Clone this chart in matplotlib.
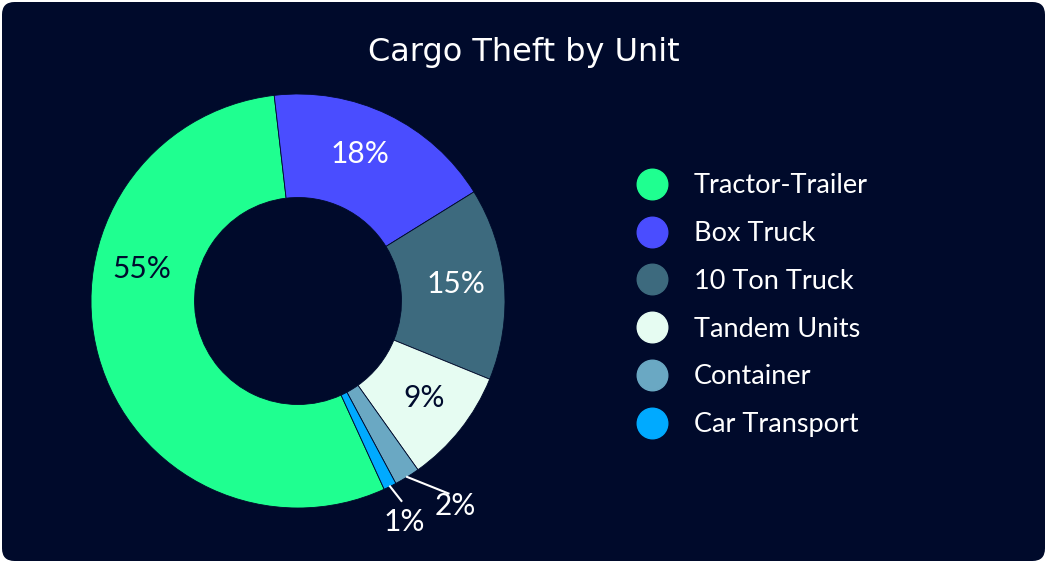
import matplotlib.pyplot as plt
import numpy as np
from matplotlib.patches import FancyBboxPatch
from matplotlib.lines import Line2D

# Данные
units = ['Tractor-Trailer', 'Box Truck', '10 Ton Truck', 'Tandem Units', 'Container', 'Car Transport']
shares = [55, 18, 15, 9, 2, 1]
colors = ['#1fff90', '#4a4dff', '#3d6a7e', '#e6fcf2', '#6aa8c3', '#00aaff']
label_colors = ['#000b2e', 'white', 'white', '#000b2e', 'white', 'white']
label_shift = [-27, 3, 1.5, 1, 0, 0]   # сдвиг подписи по углу, градусы

bg = '#000a2b'
W, H = 1049, 565

fig = plt.figure(figsize=(W / 100, H / 100), dpi=100)
fig.patch.set_facecolor('white')

# Карточка со скруглёнными углами
card = FancyBboxPatch((2 / W, 4 / H), 1043 / W, 559 / H,
                      boxstyle='round,pad=0,rounding_size=0.012',
                      transform=fig.transFigure, facecolor=bg, edgecolor='none',
                      mutation_aspect=W / H, zorder=-5)
fig.patches.append(card)

fig.text(524 / W, 1 - 52 / H, 'Cargo Theft by Unit', color='white',
         fontsize=23, family='DejaVu Sans', ha='center', va='center')

# Кольцевая диаграмма
ax = fig.add_axes([91 / W, (H - 508) / H, 414 / W, 414 / H])
ax.set_facecolor('none')
start = 90 - 155.4
wedges, _ = ax.pie(shares, colors=colors, startangle=start, counterclock=False,
                   radius=1.0, wedgeprops=dict(width=0.5, edgecolor=bg, linewidth=0.6))
ax.set_xlim(-1, 1)
ax.set_ylim(-1, 1)
ax.set_aspect('equal')
ax.axis('off')

for i, w in enumerate(wedges):
    mid = np.deg2rad((w.theta1 + w.theta2) / 2 + label_shift[i])
    txt = f'{shares[i]}%'
    if shares[i] >= 5:
        r = 0.77
        ax.text(r * np.cos(mid), r * np.sin(mid), txt, color=label_colors[i],
                fontsize=21.5, family='Lato', ha='center', va='center')
    else:
        x0, y0 = np.cos(mid), np.sin(mid)
        if shares[i] == 2:
            dx, dy, tx, ty = 0.2, -0.08, 0.035, -0.06
        else:
            dx, dy, tx, ty = 0.055, -0.07, 0.015, -0.1
        ax.plot([x0, x0 + dx], [y0, y0 + dy], color='white', lw=1.5, clip_on=False)
        ax.text(x0 + dx + tx, y0 + dy + ty, txt, color='white', fontsize=21.5,
                family='Lato', ha='center', va='center')

handles = [Line2D([], [], marker='o', linestyle='none', markersize=22,
                  markerfacecolor=c, markeredgecolor=c) for c in colors]
leg = fig.legend(handles, units, loc='upper left',
                 bbox_to_anchor=(611 / W, 1 - 149 / H), frameon=False,
                 prop=dict(family='Lato', size=19.5), labelcolor='white',
                 handletextpad=0.95, labelspacing=0.84, handlelength=1.2)

plt.savefig('out.png', dpi=100, facecolor='white')
